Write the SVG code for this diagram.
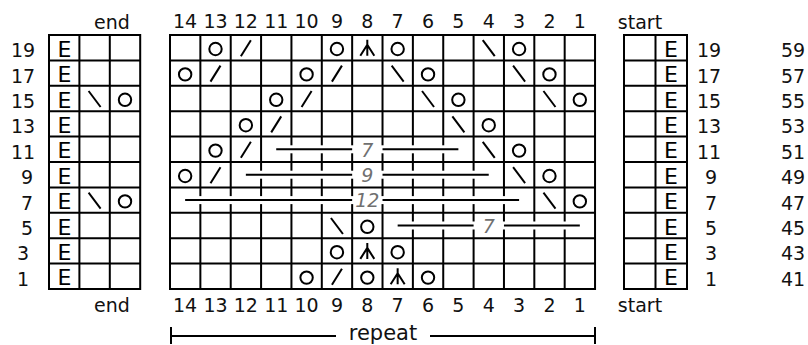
<svg xmlns="http://www.w3.org/2000/svg" xmlns:xlink="http://www.w3.org/1999/xlink" width="808" height="345" viewBox="0 0 808 345">
<style>
.grid{stroke:#000;stroke-width:2;fill:none;stroke-linecap:square}
.sym{stroke:#000;stroke-width:2;fill:none}
.lbl{font-family:"DejaVu Sans",Verdana,sans-serif;font-size:19px;fill:#111;text-anchor:middle}
.e{font-family:"DejaVu Sans",Verdana,sans-serif;font-size:22px;fill:#000;text-anchor:middle}
.num{font-family:"DejaVu Sans",Verdana,sans-serif;font-size:19px;font-style:italic;fill:#707070;text-anchor:middle}
.gap{fill:#fff}
</style>
<defs>
<circle id="o" cx="0" cy="1.3" r="6.2" class="sym"/>
<path id="k" d="M5 -7.5L-5 8.5" class="sym"/>
<path id="s" d="M-6 -7.5L6 8.5" class="sym"/>
<path id="c" d="M0 -8V8M0 -3L-7 8M0 -3L7 8" class="sym"/>
</defs>
<rect width="808" height="345" fill="#fff"/>

<g id="top-labels">
<text class="lbl" x="112" y="29">end</text>
<text class="lbl" x="185.14" y="28">14</text>
<text class="lbl" x="215.5" y="28">13</text>
<text class="lbl" x="245.86" y="28">12</text>
<text class="lbl" x="276.22" y="28">11</text>
<text class="lbl" x="306.58" y="28">10</text>
<text class="lbl" x="336.94" y="28">9</text>
<text class="lbl" x="367.3" y="28">8</text>
<text class="lbl" x="397.66" y="28">7</text>
<text class="lbl" x="428.02" y="28">6</text>
<text class="lbl" x="458.38" y="28">5</text>
<text class="lbl" x="488.74" y="28">4</text>
<text class="lbl" x="519.1" y="28">3</text>
<text class="lbl" x="549.46" y="28">2</text>
<text class="lbl" x="579.82" y="28">1</text>
<text class="lbl" x="640" y="29">start</text>
</g>

<g id="bottom-labels">
<text class="lbl" x="112" y="311.7">end</text>
<text class="lbl" x="185.14" y="311.7">14</text>
<text class="lbl" x="215.5" y="311.7">13</text>
<text class="lbl" x="245.86" y="311.7">12</text>
<text class="lbl" x="276.22" y="311.7">11</text>
<text class="lbl" x="306.58" y="311.7">10</text>
<text class="lbl" x="336.94" y="311.7">9</text>
<text class="lbl" x="367.3" y="311.7">8</text>
<text class="lbl" x="397.66" y="311.7">7</text>
<text class="lbl" x="428.02" y="311.7">6</text>
<text class="lbl" x="458.38" y="311.7">5</text>
<text class="lbl" x="488.74" y="311.7">4</text>
<text class="lbl" x="519.1" y="311.7">3</text>
<text class="lbl" x="549.46" y="311.7">2</text>
<text class="lbl" x="579.82" y="311.7">1</text>
<text class="lbl" x="640" y="311.7">start</text>
</g>

<g id="left-row-labels">
<text class="lbl" x="23" y="57.2">19</text>
<text class="lbl" x="23" y="82.6">17</text>
<text class="lbl" x="23" y="108">15</text>
<text class="lbl" x="23" y="133.4">13</text>
<text class="lbl" x="23" y="158.8">11</text>
<text class="lbl" x="27" y="184.2">9</text>
<text class="lbl" x="27" y="209.6">7</text>
<text class="lbl" x="27" y="235">5</text>
<text class="lbl" x="23" y="260.4">3</text>
<text class="lbl" x="23" y="285.8">1</text>
</g>

<g id="right-row-labels">
<text class="lbl" x="709" y="57.2">19</text>
<text class="lbl" x="709" y="82.6">17</text>
<text class="lbl" x="709" y="108">15</text>
<text class="lbl" x="709" y="133.4">13</text>
<text class="lbl" x="709" y="158.8">11</text>
<text class="lbl" x="711" y="184.2">9</text>
<text class="lbl" x="711" y="209.6">7</text>
<text class="lbl" x="711" y="235">5</text>
<text class="lbl" x="711" y="260.4">3</text>
<text class="lbl" x="711" y="285.8">1</text>
</g>

<g id="far-right-labels">
<text class="lbl" x="793" y="57.2">59</text>
<text class="lbl" x="793" y="82.6">57</text>
<text class="lbl" x="793" y="108">55</text>
<text class="lbl" x="793" y="133.4">53</text>
<text class="lbl" x="793" y="158.8">51</text>
<text class="lbl" x="793" y="184.2">49</text>
<text class="lbl" x="793" y="209.6">47</text>
<text class="lbl" x="793" y="235">45</text>
<text class="lbl" x="793" y="260.4">43</text>
<text class="lbl" x="793" y="285.8">41</text>
</g>

<g id="end-chart">
<path class="grid" d="M49 35V289M79.4 35V289M109.8 35V289M140.2 35V289M49 35H140.2M49 60.4H140.2M49 85.8H140.2M49 111.2H140.2M49 136.6H140.2M49 162H140.2M49 187.4H140.2M49 212.8H140.2M49 238.2H140.2M49 263.6H140.2M49 289H140.2"/>
<text class="e" x="64.5" y="56.7">E</text>
<text class="e" x="64.5" y="82.1">E</text>
<text class="e" x="64.5" y="107.5">E</text>
<text class="e" x="64.5" y="132.9">E</text>
<text class="e" x="64.5" y="158.3">E</text>
<text class="e" x="64.5" y="183.7">E</text>
<text class="e" x="64.5" y="209.1">E</text>
<text class="e" x="64.5" y="234.5">E</text>
<text class="e" x="64.5" y="259.9">E</text>
<text class="e" x="64.5" y="285.3">E</text>
<use xlink:href="#s" transform="translate(94.6 98.5)"/>
<use xlink:href="#o" transform="translate(125 98.5)"/>
<use xlink:href="#s" transform="translate(94.6 200.1)"/>
<use xlink:href="#o" transform="translate(125 200.1)"/>
</g>

<g id="start-chart">
<path class="grid" d="M624 35V289M655.5 35V289M687 35V289M624 35H687M624 60.4H687M624 85.8H687M624 111.2H687M624 136.6H687M624 162H687M624 187.4H687M624 212.8H687M624 238.2H687M624 263.6H687M624 289H687"/>
<text class="e" x="671" y="56.7">E</text>
<text class="e" x="671" y="82.1">E</text>
<text class="e" x="671" y="107.5">E</text>
<text class="e" x="671" y="132.9">E</text>
<text class="e" x="671" y="158.3">E</text>
<text class="e" x="671" y="183.7">E</text>
<text class="e" x="671" y="209.1">E</text>
<text class="e" x="671" y="234.5">E</text>
<text class="e" x="671" y="259.9">E</text>
<text class="e" x="671" y="285.3">E</text>
</g>

<g id="main-chart">
<path class="grid" d="M170 35V289M200.36 35V289M230.72 35V289M261.08 35V289M291.44 35V289M321.8 35V289M352.16 35V289M382.52 35V289M412.88 35V289M443.24 35V289M473.6 35V289M503.96 35V289M534.32 35V289M564.68 35V289M595.04 35V289M170 35H595.04M170 60.4H595.04M170 85.8H595.04M170 111.2H595.04M170 136.6H595.04M170 162H595.04M170 187.4H595.04M170 212.8H595.04M170 238.2H595.04M170 263.6H595.04M170 289H595.04"/>
<g id="gaps">
<rect class="gap" x="289.44" y="145.3" width="4" height="8"/><rect class="gap" x="319.8" y="145.3" width="4" height="8"/><rect class="gap" x="350.16" y="145.3" width="4" height="8"/><rect class="gap" x="380.52" y="145.3" width="4" height="8"/><rect class="gap" x="410.88" y="145.3" width="4" height="8"/><rect class="gap" x="441.24" y="145.3" width="4" height="8"/>
<rect class="gap" x="259.08" y="170.7" width="4" height="8"/><rect class="gap" x="289.44" y="170.7" width="4" height="8"/><rect class="gap" x="319.8" y="170.7" width="4" height="8"/><rect class="gap" x="350.16" y="170.7" width="4" height="8"/><rect class="gap" x="380.52" y="170.7" width="4" height="8"/><rect class="gap" x="410.88" y="170.7" width="4" height="8"/><rect class="gap" x="441.24" y="170.7" width="4" height="8"/><rect class="gap" x="471.6" y="170.7" width="4" height="8"/>
<rect class="gap" x="198.36" y="196.1" width="4" height="8"/><rect class="gap" x="228.72" y="196.1" width="4" height="8"/><rect class="gap" x="259.08" y="196.1" width="4" height="8"/><rect class="gap" x="289.44" y="196.1" width="4" height="8"/><rect class="gap" x="319.8" y="196.1" width="4" height="8"/><rect class="gap" x="350.16" y="196.1" width="4" height="8"/><rect class="gap" x="380.52" y="196.1" width="4" height="8"/><rect class="gap" x="410.88" y="196.1" width="4" height="8"/><rect class="gap" x="441.24" y="196.1" width="4" height="8"/><rect class="gap" x="471.6" y="196.1" width="4" height="8"/><rect class="gap" x="501.96" y="196.1" width="4" height="8"/>
<rect class="gap" x="410.88" y="221.5" width="4" height="8"/><rect class="gap" x="441.24" y="221.5" width="4" height="8"/><rect class="gap" x="471.6" y="221.5" width="4" height="8"/><rect class="gap" x="501.96" y="221.5" width="4" height="8"/><rect class="gap" x="532.32" y="221.5" width="4" height="8"/><rect class="gap" x="562.68" y="221.5" width="4" height="8"/>
</g>
<g id="spans">
<path class="sym" d="M276.22 149.3H352.16M382.52 149.3H458.38M245.86 174.7H352.16M382.52 174.7H488.74M185.14 200.1H352.16M382.52 200.1H519.1M397.66 225.5H473.6M503.96 225.5H579.82"/>
<text class="num" x="367.3" y="156.5">7</text>
<text class="num" x="367.3" y="181.9">9</text>
<text class="num" x="367.3" y="207.3">12</text>
<text class="num" x="488.74" y="232.7">7</text>
</g>
<g id="symbols">
<use xlink:href="#o" transform="translate(215.5 47.7)"/>
<use xlink:href="#k" transform="translate(245.86 47.7)"/>
<use xlink:href="#o" transform="translate(336.94 47.7)"/>
<use xlink:href="#c" transform="translate(367.3 47.7)"/>
<use xlink:href="#o" transform="translate(397.66 47.7)"/>
<use xlink:href="#s" transform="translate(488.74 47.7)"/>
<use xlink:href="#o" transform="translate(519.1 47.7)"/>

<use xlink:href="#o" transform="translate(185.14 73.1)"/>
<use xlink:href="#k" transform="translate(215.5 73.1)"/>
<use xlink:href="#o" transform="translate(306.58 73.1)"/>
<use xlink:href="#k" transform="translate(336.94 73.1)"/>
<use xlink:href="#s" transform="translate(397.66 73.1)"/>
<use xlink:href="#o" transform="translate(428.02 73.1)"/>
<use xlink:href="#s" transform="translate(519.1 73.1)"/>
<use xlink:href="#o" transform="translate(549.46 73.1)"/>

<use xlink:href="#o" transform="translate(276.22 98.5)"/>
<use xlink:href="#k" transform="translate(306.58 98.5)"/>
<use xlink:href="#s" transform="translate(428.02 98.5)"/>
<use xlink:href="#o" transform="translate(458.38 98.5)"/>
<use xlink:href="#s" transform="translate(549.46 98.5)"/>
<use xlink:href="#o" transform="translate(579.82 98.5)"/>

<use xlink:href="#o" transform="translate(245.86 123.9)"/>
<use xlink:href="#k" transform="translate(276.22 123.9)"/>
<use xlink:href="#s" transform="translate(458.38 123.9)"/>
<use xlink:href="#o" transform="translate(488.74 123.9)"/>

<use xlink:href="#o" transform="translate(215.5 149.3)"/>
<use xlink:href="#k" transform="translate(245.86 149.3)"/>
<use xlink:href="#s" transform="translate(488.74 149.3)"/>
<use xlink:href="#o" transform="translate(519.1 149.3)"/>

<use xlink:href="#o" transform="translate(185.14 174.7)"/>
<use xlink:href="#k" transform="translate(215.5 174.7)"/>
<use xlink:href="#s" transform="translate(519.1 174.7)"/>
<use xlink:href="#o" transform="translate(549.46 174.7)"/>

<use xlink:href="#s" transform="translate(549.46 200.1)"/>
<use xlink:href="#o" transform="translate(579.82 200.1)"/>

<use xlink:href="#s" transform="translate(336.94 225.5)"/>
<use xlink:href="#o" transform="translate(367.3 225.5)"/>

<use xlink:href="#o" transform="translate(336.94 250.9)"/>
<use xlink:href="#c" transform="translate(367.3 250.9)"/>
<use xlink:href="#o" transform="translate(397.66 250.9)"/>

<use xlink:href="#o" transform="translate(306.58 276.3)"/>
<use xlink:href="#k" transform="translate(336.94 276.3)"/>
<use xlink:href="#o" transform="translate(367.3 276.3)"/>
<use xlink:href="#c" transform="translate(397.66 276.3)"/>
<use xlink:href="#o" transform="translate(428.02 276.3)"/>
</g>
</g>

<g id="repeat">
<path class="sym" d="M171 327V344M595 327V344M171 336H336M430 336H595"/>
<text class="lbl" x="383" y="340" style="font-size:21px">repeat</text>
</g>
</svg>
